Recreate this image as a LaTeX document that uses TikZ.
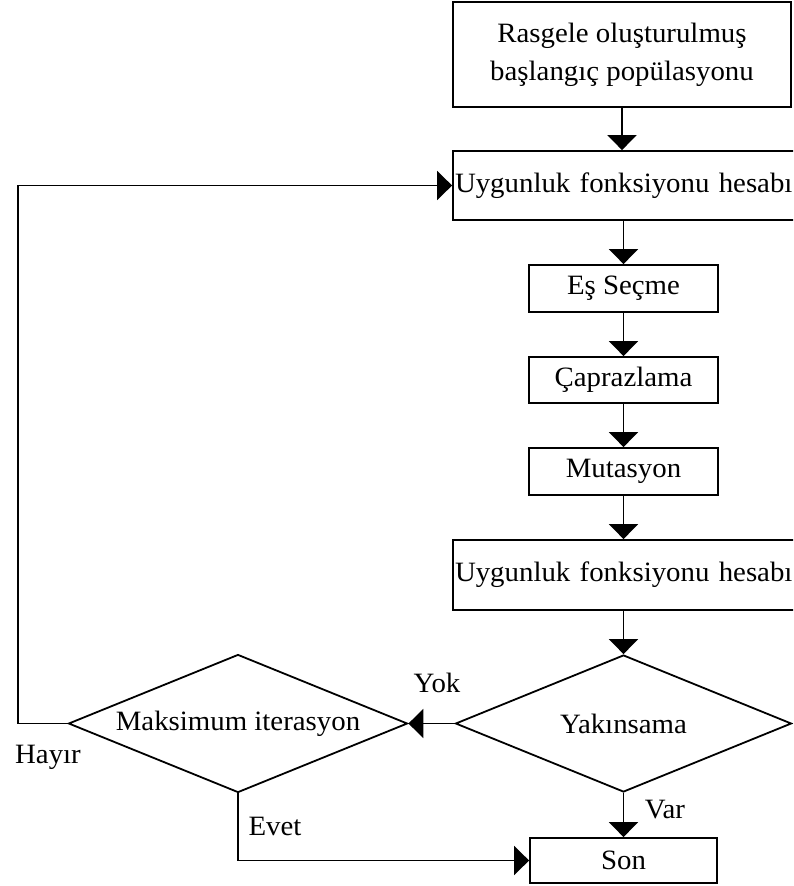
\documentclass[tikz,border=0pt]{standalone}
\usepackage{fontspec}
\setmainfont{Liberation Serif}[FakeStretch=1.03]
\usetikzlibrary{shapes.geometric,arrows.meta}
\begin{document}
\begin{tikzpicture}[x=1pt,y=-1pt,
  every node/.style={font=\fontsize{28}{38}\selectfont},
  stepbox/.style={draw,line width=1.8pt,inner sep=0pt},
  decision/.style={draw,diamond,line width=1.8pt,inner sep=0pt,shape aspect=2.45},
  arr/.style={line width=1.8pt,-{Triangle[length=15pt,width=29pt]}},
  lbl/.style={inner sep=0pt}]
\useasboundingbox (0,0) rectangle (793,886);
\clip (0,0) rectangle (793,886);
\fill[white] (0,0) rectangle (793,886);
\node[stepbox,minimum width=338pt,minimum height=105pt,align=center] (b1) at (622,54.5) {Rasgele oluşturulmuş\\başlangıç popülasyonu};
\node[stepbox,minimum height=69pt,text width=376pt,inner xsep=2pt,align=left] (b2) at (643,185.5) {Uygunluk fonksiyonu hesabı};
\node[stepbox,minimum width=189pt,minimum height=47pt] (b3) at (623.5,288.5) {Eş Seçme};
\node[stepbox,minimum width=189pt,minimum height=46pt] (b4) at (623.5,380) {Çaprazlama};
\node[stepbox,minimum width=189pt,minimum height=47pt] (b5) at (623.5,471.5) {Mutasyon};
\node[stepbox,minimum height=70pt,text width=376pt,inner xsep=2pt,align=left] (b6) at (643,575) {Uygunluk fonksiyonu hesabı};
\node[decision,minimum width=336pt,minimum height=137pt] (yak) at (623.5,723.5) {Yakınsama};
\node[decision,minimum width=339pt,minimum height=138pt] (mak) at (238,723.5) {Maksimum iterasyon};
\node[stepbox,minimum width=187pt,minimum height=45pt] (son) at (623.5,860.5) {Son};
\coordinate (lx) at (18,400);
\draw[arr] (b1.south) -- (b1.south |- b2.north);
\draw[arr] (b3.north |- b2.south) -- (b3.north);
\draw[arr] (b3.south) -- (b4.north);
\draw[arr] (b4.south) -- (b5.north);
\draw[arr] (b5.south) -- (b5.south |- b6.north);
\draw[arr] (b5.south |- b6.south) -- (yak.north);
\draw[arr] (yak.west) -- (mak.east);
\draw[arr] (yak.south) -- (son.north);
\draw[arr] (mak.west) -| (lx) |- (b2.west);
\draw[arr] (mak.south) |- (son.west);
\node[lbl] (yok) at (437,683) {Yok};
\node[lbl] (hayir) at (48,757) {Hayır};
\node[lbl] (evet) at (275,826) {Evet};
\node[lbl] (var) at (665,810) {Var};
\end{tikzpicture}
\end{document}
